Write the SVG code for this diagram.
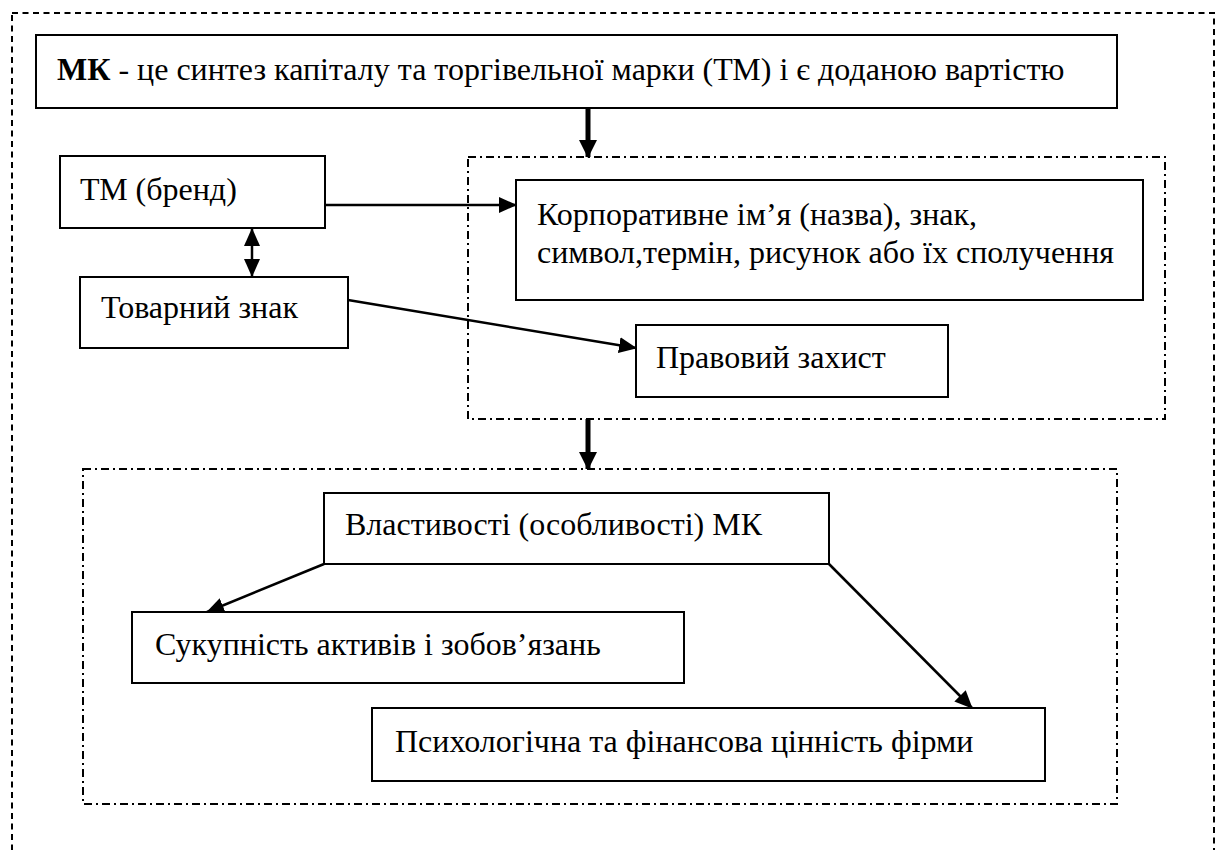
<svg xmlns="http://www.w3.org/2000/svg" width="1221" height="850" viewBox="0 0 1221 850">
<defs>
<marker id="ah" markerUnits="userSpaceOnUse" markerWidth="18" markerHeight="16" refX="17" refY="8" orient="auto">
<path d="M0,0 L18,8 L0,16 Z" fill="#000"/>
</marker>
<marker id="ahs" markerUnits="userSpaceOnUse" markerWidth="18" markerHeight="16" refX="1" refY="8" orient="auto">
<path d="M18,0 L0,8 L18,16 Z" fill="#000"/>
</marker>
<marker id="ahb" markerUnits="userSpaceOnUse" markerWidth="18" markerHeight="18" refX="17" refY="9" orient="auto">
<path d="M0,0 L18,9 L0,18 Z" fill="#000"/>
</marker>
</defs>
<rect x="12" y="13" width="1202" height="860" fill="none" stroke="#000" stroke-width="2" stroke-dasharray="6 4.5"/>
<g fill="none" stroke="#000" stroke-width="2" stroke-dasharray="8 4 2 4">
<rect x="468" y="157" width="697" height="262"/>
<rect x="83" y="469" width="1034" height="335"/>
</g>
<g id="connectors" stroke="#000" fill="none">
<g stroke-width="5">
<line x1="588" y1="108" x2="588" y2="157" marker-end="url(#ahb)"/>
<line x1="588" y1="419" x2="588" y2="469" marker-end="url(#ahb)"/>
</g>
<g stroke-width="2.5">
<line x1="325" y1="205" x2="516" y2="205" marker-end="url(#ah)"/>
<line x1="252" y1="229" x2="252" y2="276" marker-start="url(#ahs)" marker-end="url(#ah)"/>
<line x1="348" y1="300" x2="636" y2="348" marker-end="url(#ah)"/>
<line x1="324" y1="564" x2="207" y2="612" marker-end="url(#ah)"/>
<line x1="829" y1="564" x2="972" y2="708" marker-end="url(#ah)"/>
</g>
</g>
<g id="nodes">
<g id="n-title">
<rect x="36" y="35" width="1081" height="73" fill="#fff" stroke="#000" stroke-width="2"/>
<text x="57" y="80" font-family="Liberation Serif" font-size="32" fill="#000"><tspan font-weight="bold">МК</tspan> - це синтез капіталу та торгівельної марки (ТМ) і є доданою вартістю</text>
</g>
<g id="n-tm">
<rect x="60" y="156" width="265" height="72" fill="#fff" stroke="#000" stroke-width="2"/>
<text x="80" y="200" font-family="Liberation Serif" font-size="32" fill="#000">ТМ (бренд)</text>
</g>
<g id="n-corp">
<rect x="516" y="180" width="627" height="120" fill="#fff" stroke="#000" stroke-width="2"/>
<text x="537" y="225" font-family="Liberation Serif" font-size="32" fill="#000">Корпоративне ім’я (назва), знак,</text>
<text x="537" y="263" font-family="Liberation Serif" font-size="32" fill="#000">символ,термін, рисунок або їх сполучення</text>
</g>
<g id="n-tz">
<rect x="80" y="277" width="268" height="71" fill="#fff" stroke="#000" stroke-width="2"/>
<text x="101" y="318" font-family="Liberation Serif" font-size="32" fill="#000">Товарний знак</text>
</g>
<g id="n-law">
<rect x="636" y="325" width="312" height="72" fill="#fff" stroke="#000" stroke-width="2"/>
<text x="656" y="368" font-family="Liberation Serif" font-size="32" fill="#000">Правовий захист</text>
</g>
<g id="n-props">
<rect x="324" y="493" width="505" height="71" fill="#fff" stroke="#000" stroke-width="2"/>
<text x="345" y="535" font-family="Liberation Serif" font-size="32" fill="#000">Властивості (особливості) МК</text>
</g>
<g id="n-assets">
<rect x="132" y="612" width="552" height="71" fill="#fff" stroke="#000" stroke-width="2"/>
<text x="155" y="655" font-family="Liberation Serif" font-size="32" fill="#000">Сукупність активів і зобов’язань</text>
</g>
<g id="n-value">
<rect x="372" y="708" width="673" height="73" fill="#fff" stroke="#000" stroke-width="2"/>
<text x="395" y="752" font-family="Liberation Serif" font-size="32" fill="#000">Психологічна та фінансова цінність фірми</text>
</g>
</g>
</svg>
